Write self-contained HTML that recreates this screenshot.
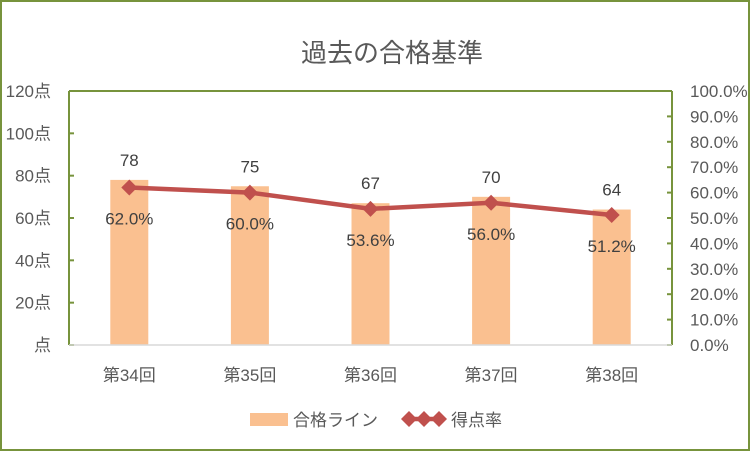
<!DOCTYPE html>
<html><head><meta charset="utf-8"><style>
body{margin:0;background:#fff}
svg{display:block;font-family:"Liberation Sans","Noto Sans CJK JP",sans-serif}
</style></head><body>
<svg id="c" width="750" height="451">
<rect x="1" y="1" width="748" height="449" fill="#fff" stroke="#77933c" stroke-width="2"/>
<text x="392" y="62" font-size="26" fill="#595959" text-anchor="middle">過去の合格基準</text>
<g id="g"></g>
</svg>
<script>
const categories=["第34回","第35回","第36回","第37回","第38回"];
const scores=[78,75,67,70,64];
const rates=[62.0,60.0,53.6,56.0,51.2];
const leftTicks=[0,20,40,60,80,100,120];
const rightTicks=[0,10,20,30,40,50,60,70,80,90,100];
const L=69,R=672,T=91,B=345;
const ns="http://www.w3.org/2000/svg";
const g=document.getElementById('g');
function mk(t,a,txt){const e=document.createElementNS(ns,t);for(const k in a)e.setAttribute(k,a[k]);if(txt!==undefined)e.textContent=txt;g.appendChild(e);return e;}
const yL=v=>B-(v/120)*(B-T);
const yR=v=>B-(v/100)*(B-T);
const bw=(R-L)/categories.length;
const xC=i=>L+bw*(i+0.5);
let e;
e=mk('line',{x1:L,y1:T,x2:R,y2:T,stroke:'#77933c','stroke-width':2});

e=mk('line',{x1:L,y1:T,x2:L,y2:B,stroke:'#77933c','stroke-width':2});

e=mk('line',{x1:R,y1:T,x2:R,y2:B,stroke:'#77933c','stroke-width':2});

leftTicks.forEach(v=>{
 e=mk('line',{x1:L,y1:yL(v),x2:L+5,y2:yL(v),stroke:'#77933c','stroke-width':2});
 
 e=mk('text',{x:51,y:yL(v)+6,'font-size':17,fill:'#595959','text-anchor':'end'},(v?v:'')+'点');
 
});
rightTicks.forEach(v=>{
 e=mk('line',{x1:R-5,y1:yR(v),x2:R,y2:yR(v),stroke:'#77933c','stroke-width':2});
 
 e=mk('text',{x:690,y:yR(v)+6,'font-size':17,fill:'#595959'},v.toFixed(1)+'%');
 
});
scores.forEach((v,i)=>{
 e=mk('rect',{x:xC(i)-19,y:yL(v),width:38,height:B-yL(v),fill:'#fac090'});
 
 e=mk('text',{x:xC(i),y:yL(v)-14,'font-size':17,fill:'#404040','text-anchor':'middle'},v);
 
 e=mk('text',{x:xC(i),y:yR(rates[i])+37,'font-size':17,fill:'#404040','text-anchor':'middle'},rates[i].toFixed(1)+'%');
 
 e=mk('text',{x:xC(i),y:381,'font-size':17,fill:'#595959','text-anchor':'middle'},categories[i]);
 
});
e=mk('line',{x1:L,y1:B,x2:R,y2:B,stroke:'#d9d9d9','stroke-width':1.5});

e=mk('polyline',{points:rates.map((v,i)=>xC(i)+','+yR(v)).join(' '),fill:'none',stroke:'#c0504d','stroke-width':4.5});

rates.forEach((v,i)=>{
 const x=xC(i),y=yR(v);
 e=mk('polygon',{points:`${x},${y-8} ${x+8},${y} ${x},${y+8} ${x-8},${y}`,fill:'#c0504d'});
 
});
e=mk('rect',{x:250,y:413,width:38,height:13,fill:'#fac090'});

e=mk('text',{x:293,y:426,'font-size':17,fill:'#595959'},'合格ライン');

e=mk('line',{x1:404,y1:419,x2:444,y2:419,stroke:'#c0504d','stroke-width':4.5});

[409,424,439].forEach(x=>{
 e=mk('polygon',{points:`${x},411 ${x+8},419 ${x},427 ${x-8},419`,fill:'#c0504d'});
 
});
e=mk('text',{x:451,y:426,'font-size':17,fill:'#595959'},'得点率');

</script>
</body></html>
